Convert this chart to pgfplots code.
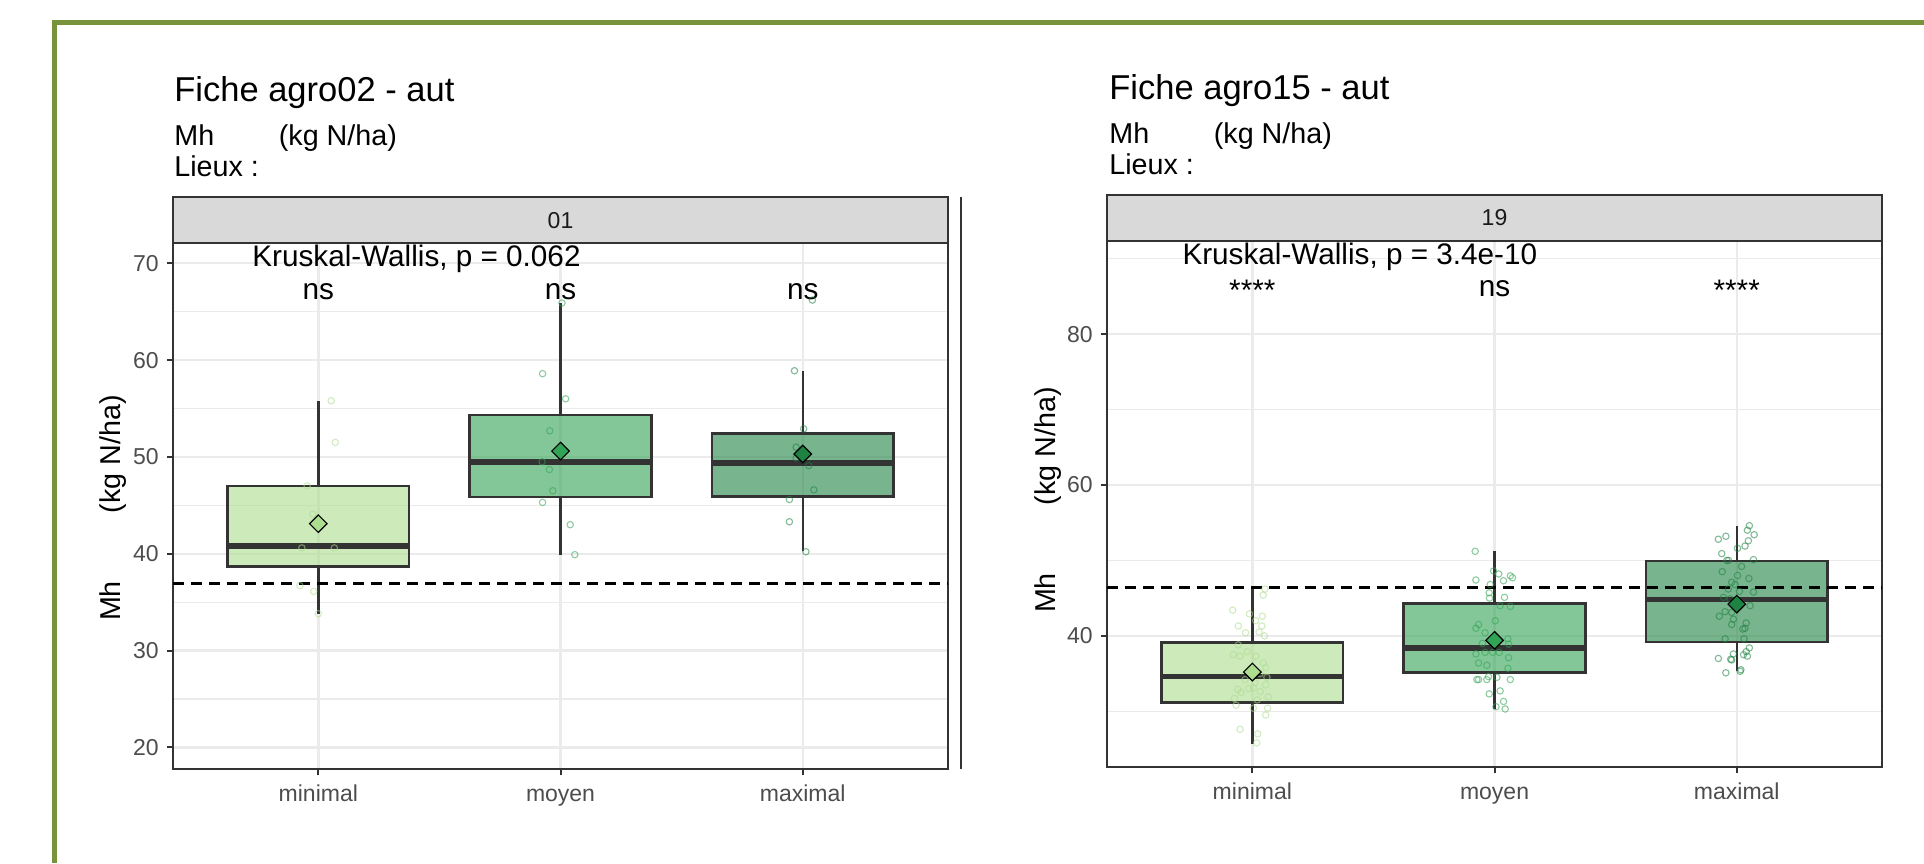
\documentclass[border=0pt]{standalone}
\usepackage{pgfplots}
\pgfplotsset{compat=1.18}
\usepackage{fontspec}
\setmainfont{Liberation Sans}
\definecolor{greenborder}{RGB}{119,147,60}
\definecolor{minc}{RGB}{173,221,142}
\definecolor{moyc}{RGB}{49,163,84}
\definecolor{maxc}{RGB}{30,130,66}
\definecolor{gridc}{RGB}{235,235,235}
\definecolor{dark}{RGB}{51,51,51}
\definecolor{tickc}{RGB}{77,77,77}
\definecolor{stripc}{RGB}{217,217,217}
\definecolor{striptext}{RGB}{26,26,26}
\newcommand{\fs}[1]{\fontsize{#1bp}{#1bp}\selectfont}

\pgfplotstableread{
x y
1.053 55.8
1.070 51.5
0.954 47.0
0.977 44.1
0.932 40.6
1.066 40.6
0.924 36.7
0.981 36.1
1.000 33.8
}\LminPts
\pgfplotstableread{
x y
2.006 65.9
1.926 58.6
2.021 56.0
1.956 52.7
1.924 49.5
1.954 48.7
1.968 46.5
1.926 45.3
2.040 43.0
2.059 39.9
}\LmoyPts
\pgfplotstableread{
x y
3.040 66.2
2.966 58.9
3.004 52.9
2.973 51.0
2.973 49.9
3.025 49.1
3.046 46.6
2.945 45.6
2.945 43.3
3.013 40.2
}\LmaxPts
\pgfplotstableread{
x y
1.052 46.2
1.045 45.4
0.919 43.4
0.988 42.9
1.041 42.6
1.014 42.0
0.942 41.3
1.039 41.3
0.972 40.4
1.028 40.5
1.050 40.0
0.942 38.8
0.921 37.5
0.949 37.3
0.979 37.9
1.014 37.3
1.045 36.4
1.055 35.8
1.032 35.0
1.055 33.5
1.004 33.1
1.032 32.6
0.953 32.5
0.926 31.7
1.066 31.9
0.933 30.8
1.004 30.4
1.063 30.4
1.055 29.5
0.949 27.6
1.022 27.0
1.018 25.8
0.970 34.2
1.010 33.8
0.940 32.9
1.020 31.5
1.060 34.5
0.985 33.0
}\RminPts
\pgfplotstableread{
x y
1.920 51.2
1.996 48.6
2.017 48.2
2.065 47.96
2.074 47.7
1.923 47.4
2.037 47.3
1.982 46.8
1.978 45.7
2.041 45.1
1.979 45.0
2.023 44.0
2.065 43.9
2.003 42.0
1.923 41.0
1.934 41.5
1.961 40.4
2.055 39.6
1.950 39.0
2.058 38.9
1.923 37.6
1.961 37.8
1.992 37.8
2.019 37.8
2.058 37.1
1.934 36.4
1.968 36.1
2.055 35.7
1.927 34.2
1.968 34.2
1.934 34.2
1.975 34.6
2.010 34.5
2.065 34.2
1.978 32.3
2.023 32.7
2.037 31.3
2.006 30.6
2.044 30.3
}\RmoyPts
\pgfplotstableread{
x y
3.052 54.6
3.044 54.0
3.072 53.4
2.924 52.8
2.955 53.2
3.048 52.6
3.034 51.9
3.003 51.6
2.938 50.9
2.959 50.0
2.966 50.0
3.069 50.1
3.003 48.0
2.979 47.1
2.993 46.8
3.011 45.9
3.069 45.8
2.945 45.1
2.972 44.9
3.055 44.0
2.952 43.2
2.979 43.1
2.928 42.6
2.986 42.2
2.979 41.5
3.039 41.7
3.034 41.0
3.025 40.9
2.952 39.6
3.030 39.6
3.052 38.4
3.039 37.9
3.028 37.5
2.986 37.6
2.979 36.8
2.975 36.9
3.044 37.3
2.924 37.0
2.955 35.1
3.014 35.3
3.017 35.5
3.020 49.2
2.940 48.5
3.050 47.6
2.965 46.2
}\RmaxPts

\pgfplotsset{
  panel/.style={
    scale only axis, width=387.5bp, height=263.3bp,
    xmin=0.4, xmax=3.6,
    anchor=south west, clip=false,
    axis line style={draw=dark, line width=1bp},
    tick pos=left, tick align=outside,
    major tick length=3bp, minor tick length=0pt,
    tick style={draw=dark, line width=1bp},
    xtick={1,2,3}, xticklabels={minimal,moyen,maximal},
    grid=both,
    major grid style={draw=gridc, line width=1.2bp},
    minor grid style={draw=gridc, line width=0.6bp},
    tick label style={font=\fs{11.5}, text=tickc},
    /pgf/number format/assume math mode=true,
    xticklabel style={inner sep=0pt, anchor=north, text height=8.5bp, text depth=2.5bp, yshift=-4.5bp},
    yticklabel style={inner sep=0pt, anchor=east, xshift=-4bp},
  },
  pts/.style={only marks, mark=o, mark size=1.6bp,
    mark options={draw=#1, draw opacity=0.55, line width=0.55bp}},
  bx/.style={draw=dark, line width=1.3bp, fill=#1, fill opacity=0.6, solid, mark=none},
  med/.style={draw=dark, line width=2.8bp, mark=none},
  wsk/.style={draw=dark, line width=1.2bp, mark=none},
  meanpt/.style={only marks, mark=square*, mark size=3.1bp,
    mark options={rotate=45, fill=#1, draw=black, line width=0.6bp}},
  refline/.style={draw=black, line width=1.5bp, dash pattern=on 5.5bp off 3.5bp, mark=none},
}

\begin{document}
\begin{tikzpicture}[x=0.5bp, y=0.5bp]
\useasboundingbox (0,0) rectangle (1924,863);
\fill[white] (0,0) rectangle (1924,863);
% green frame
\fill[greenborder] (52,843) rectangle (1924,837.5);
\fill[greenborder] (52,843) rectangle (57,0);

% ---------- left panel ----------
\node[anchor=base west, inner sep=0pt, font=\fs{17.25}] at (174,761.3) {Fiche agro02 - aut};
\node[anchor=base west, inner sep=0pt, font=\fs{14.35}] at (174,717) {Mh};
\node[anchor=base west, inner sep=0pt, font=\fs{14.35}] at (278.5,717) {(kg N/ha)};
\node[anchor=base west, inner sep=0pt, font=\fs{14.35}] at (174,686) {Lieux :};
\node[anchor=base, rotate=90, inner sep=0pt, font=\fs{14.35}] at (120,355) {Mh\hspace{34bp}(kg N/ha)};
\draw[dark, line width=0.8bp] (961,666) -- (961,93.7);

\begin{axis}[panel, at={(86.5bp,46.85bp)}, ymin=17.73, ymax=72.13,
  ytick={20,30,40,50,60,70}, minor ytick={25,35,45,55,65}]
\addplot[pts=minc] table {\LminPts};
\addplot[pts=moyc] table {\LmoyPts};
\addplot[pts=maxc] table {\LmaxPts};
% minimal
\addplot[wsk] coordinates {(1,47.0) (1,55.8)};
\addplot[wsk] coordinates {(1,38.66) (1,33.8)};
\addplot[bx=minc] coordinates {(0.625,38.66) (1.375,38.66) (1.375,47.0) (0.625,47.0)} -- cycle;
\addplot[med] coordinates {(0.625,40.8) (1.375,40.8)};
% moyen
\addplot[wsk] coordinates {(2,54.33) (2,65.9)};
\addplot[wsk] coordinates {(2,45.85) (2,39.9)};
\addplot[bx=moyc] coordinates {(1.625,45.85) (2.375,45.85) (2.375,54.33) (1.625,54.33)} -- cycle;
\addplot[med] coordinates {(1.625,49.5) (2.375,49.5)};
% maximal
\addplot[wsk] coordinates {(3,52.4) (3,58.9)};
\addplot[wsk] coordinates {(3,45.9) (3,40.3)};
\addplot[bx=maxc] coordinates {(2.625,45.9) (3.375,45.9) (3.375,52.4) (2.625,52.4)} -- cycle;
\addplot[med] coordinates {(2.625,49.4) (3.375,49.4)};
\addplot[refline] coordinates {(0.4,36.94) (3.6,36.94)};
\addplot[meanpt=minc] coordinates {(1,43.1)};
\addplot[meanpt=moyc] coordinates {(2,50.6)};
\addplot[meanpt=maxc] coordinates {(3,50.3)};
\node[anchor=base west, inner sep=0pt, font=\fs{14.85}] at (axis cs:0.726,69.65) {Kruskal-Wallis, p = 0.062};
\node[anchor=base, inner sep=0pt, font=\fs{14.85}] at (axis cs:1,66.3) {ns};
\node[anchor=base, inner sep=0pt, font=\fs{14.85}] at (axis cs:2,66.3) {ns};
\node[anchor=base, inner sep=0pt, font=\fs{14.85}] at (axis cs:3,66.3) {ns};
\end{axis}
\draw[dark, line width=1bp, fill=stripc] (173,666) rectangle (948,620.3);
\node[anchor=base, inner sep=0pt, font=\fs{11.5}, text=striptext] at (560.5,634.5) {01};

% ---------- right panel ----------
\node[anchor=base west, inner sep=0pt, font=\fs{17.25}] at (1109,763.8) {Fiche agro15 - aut};
\node[anchor=base west, inner sep=0pt, font=\fs{14.35}] at (1109,719.5) {Mh};
\node[anchor=base west, inner sep=0pt, font=\fs{14.35}] at (1213.5,719.5) {(kg N/ha)};
\node[anchor=base west, inner sep=0pt, font=\fs{14.35}] at (1109,688.5) {Lieux :};
\node[anchor=base, rotate=90, inner sep=0pt, font=\fs{14.35}] at (1055,363) {Mh\hspace{34bp}(kg N/ha)};

\begin{axis}[panel, at={(553.5bp,47.85bp)}, ymin=22.57, ymax=92.38,
  ytick={40,60,80}, minor ytick={30,50,70,90}]
\addplot[pts=minc] table {\RminPts};
\addplot[pts=moyc] table {\RmoyPts};
\addplot[pts=maxc] table {\RmaxPts};
% minimal
\addplot[wsk] coordinates {(1,39.11) (1,46.3)};
\addplot[wsk] coordinates {(1,31.2) (1,25.67)};
\addplot[bx=minc] coordinates {(0.625,31.2) (1.375,31.2) (1.375,39.11) (0.625,39.11)} -- cycle;
\addplot[med] coordinates {(0.625,34.6) (1.375,34.6)};
% moyen
\addplot[wsk] coordinates {(2,44.3) (2,51.2)};
\addplot[wsk] coordinates {(2,35.1) (2,30.3)};
\addplot[bx=moyc] coordinates {(1.625,35.1) (2.375,35.1) (2.375,44.3) (1.625,44.3)} -- cycle;
\addplot[med] coordinates {(1.625,38.4) (2.375,38.4)};
% maximal
\addplot[wsk] coordinates {(3,49.9) (3,54.5)};
\addplot[wsk] coordinates {(3,39.2) (3,35.3)};
\addplot[bx=maxc] coordinates {(2.625,39.2) (3.375,39.2) (3.375,49.9) (2.625,49.9)} -- cycle;
\addplot[med] coordinates {(2.625,44.8) (3.375,44.8)};
\addplot[refline] coordinates {(0.4,46.46) (3.6,46.46)};
\addplot[meanpt=minc] coordinates {(1,35.2)};
\addplot[meanpt=moyc] coordinates {(2,39.4)};
\addplot[meanpt=maxc] coordinates {(3,44.2)};
\node[anchor=base west, inner sep=0pt, font=\fs{14.85}] at (axis cs:0.71,89.16) {Kruskal-Wallis, p = 3.4e-10};
\node[anchor=base, inner sep=0pt, font=\fs{14.85}] at (axis cs:1,84.5) {****};
\node[anchor=base, inner sep=0pt, font=\fs{14.85}] at (axis cs:2,84.95) {ns};
\node[anchor=base, inner sep=0pt, font=\fs{14.85}] at (axis cs:3,84.5) {****};
\end{axis}
\draw[dark, line width=1bp, fill=stripc] (1107,668.3) rectangle (1882,622.3);
\node[anchor=base, inner sep=0pt, font=\fs{11.5}, text=striptext] at (1494.5,637.3) {19};
\end{tikzpicture}
\end{document}
